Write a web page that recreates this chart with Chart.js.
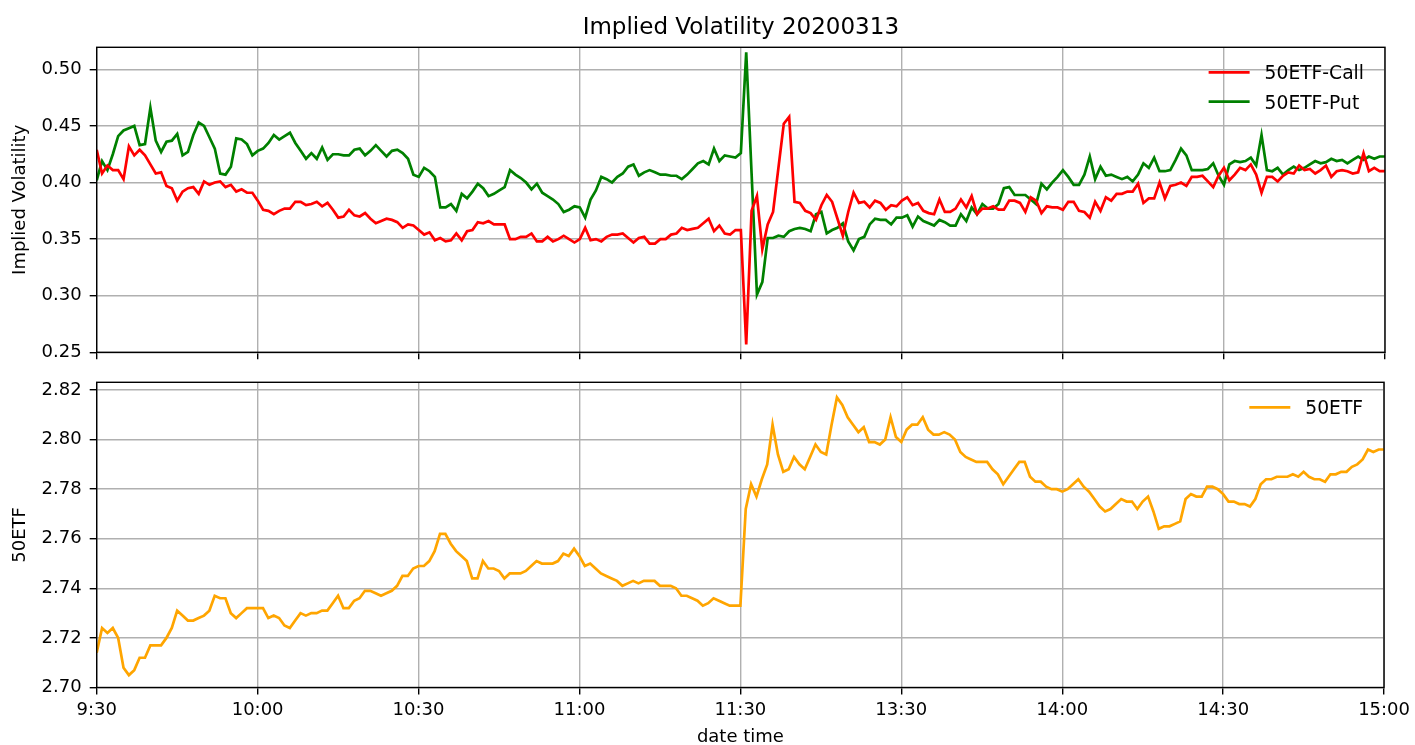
<!DOCTYPE html>
<html>
<head>
<meta charset="utf-8">
<script src="https://cdn.jsdelivr.net/npm/chart.js@4/dist/chart.umd.min.js"></script>
<style>
  html, body { margin: 0; padding: 0; background: #fff; overflow: hidden; }
  #wrap { position: relative; width: 1415px; height: 745px; }
  #ivChart { position: absolute; left: 0; top: 0; }
  #etfChart { position: absolute; left: 0; top: 360px; }
</style>
</head>
<body>
<div id="wrap">
  <canvas id="etfChart" width="1415" height="390"></canvas>
  <canvas id="ivChart" width="1415" height="372"></canvas>
</div>
<script>
// one value per trading minute, 9:30-11:30 then 13:00-15:00 (lunch break squeezed out)
var tickLabels = ['9:30', '10:00', '10:30', '11:00', '11:30', '13:30', '14:00', '14:30', '15:00'];

var callIV = [
  0.429, 0.408, 0.415, 0.411, 0.411, 0.403, 0.432, 0.424, 0.429, 0.424,
  0.416, 0.408, 0.409, 0.397, 0.395, 0.384, 0.392, 0.395, 0.396, 0.390,
  0.401, 0.398, 0.400, 0.401, 0.396, 0.398, 0.392, 0.394, 0.391, 0.391,
  0.384, 0.376, 0.375, 0.372, 0.375, 0.377, 0.377, 0.383, 0.383, 0.380,
  0.381, 0.383, 0.379, 0.382, 0.376, 0.369, 0.370, 0.376, 0.371, 0.370,
  0.373, 0.368, 0.364, 0.366, 0.368, 0.367, 0.365, 0.360, 0.363, 0.362,
  0.358, 0.354, 0.356, 0.349, 0.351, 0.348, 0.349, 0.355, 0.349, 0.357,
  0.358, 0.365, 0.364, 0.366, 0.363, 0.363, 0.363, 0.350, 0.350, 0.352,
  0.352, 0.355, 0.348, 0.348, 0.352, 0.348, 0.350, 0.353, 0.350, 0.347,
  0.350, 0.360, 0.349, 0.350, 0.348, 0.352, 0.354, 0.354, 0.355, 0.351,
  0.347, 0.351, 0.352, 0.346, 0.346, 0.350, 0.350, 0.354, 0.355, 0.360,
  0.358, 0.359, 0.360, 0.364, 0.368, 0.357, 0.362, 0.355, 0.354, 0.358,
  0.358, 0.257, 0.375, 0.388, 0.341, 0.363, 0.374, 0.413, 0.452, 0.458,
  0.383, 0.382, 0.375, 0.373, 0.367, 0.380, 0.389, 0.383, 0.368, 0.353,
  0.374, 0.391, 0.382, 0.383, 0.378, 0.384, 0.382, 0.376, 0.380, 0.379,
  0.384, 0.387, 0.380, 0.382, 0.375, 0.373, 0.372, 0.385, 0.374, 0.374,
  0.377, 0.385, 0.378, 0.388, 0.372, 0.377, 0.377, 0.379, 0.376, 0.376,
  0.384, 0.384, 0.382, 0.374, 0.387, 0.384, 0.373, 0.379, 0.378, 0.378,
  0.376, 0.383, 0.383, 0.375, 0.374, 0.369, 0.383, 0.375, 0.387, 0.384,
  0.390, 0.390, 0.392, 0.392, 0.399, 0.382, 0.386, 0.386, 0.400, 0.386,
  0.397, 0.398, 0.400, 0.397, 0.405, 0.405, 0.406, 0.401, 0.396, 0.406,
  0.413, 0.402, 0.407, 0.413, 0.411, 0.416, 0.407, 0.391, 0.405, 0.405,
  0.401, 0.406, 0.409, 0.408, 0.415, 0.411, 0.412, 0.408, 0.411, 0.415,
  0.405, 0.410, 0.411, 0.410, 0.408, 0.409, 0.426, 0.410, 0.413, 0.410,
  0.410
];

var putIV = [
  0.402, 0.419, 0.411, 0.425, 0.441, 0.446, 0.448, 0.450, 0.433, 0.434,
  0.466, 0.437, 0.427, 0.436, 0.437, 0.443, 0.424, 0.427, 0.442, 0.453,
  0.450, 0.440, 0.430, 0.408, 0.407, 0.414, 0.439, 0.438, 0.434, 0.424,
  0.428, 0.430, 0.435, 0.442, 0.438, 0.441, 0.444, 0.435, 0.428, 0.421,
  0.426, 0.421, 0.431, 0.420, 0.425, 0.425, 0.424, 0.424, 0.429, 0.430,
  0.424, 0.428, 0.433, 0.428, 0.423, 0.428, 0.429, 0.426, 0.421, 0.407,
  0.405, 0.413, 0.410, 0.405, 0.378, 0.378, 0.381, 0.375, 0.390, 0.386,
  0.392, 0.399, 0.395, 0.388, 0.390, 0.393, 0.396, 0.411, 0.407, 0.404,
  0.400, 0.394, 0.399, 0.391, 0.388, 0.385, 0.381, 0.374, 0.376, 0.379,
  0.378, 0.369, 0.385, 0.393, 0.405, 0.403, 0.400, 0.405, 0.408, 0.414,
  0.416, 0.406, 0.409, 0.411, 0.409, 0.407, 0.407, 0.406, 0.406, 0.403,
  0.407, 0.412, 0.417, 0.419, 0.416, 0.430, 0.419, 0.424, 0.423, 0.422,
  0.426, 0.515, 0.408, 0.301, 0.312, 0.351, 0.351, 0.353, 0.352, 0.357,
  0.359, 0.360, 0.359, 0.357, 0.372, 0.374, 0.355, 0.358, 0.360, 0.364,
  0.348, 0.340, 0.350, 0.352, 0.363, 0.368, 0.367, 0.367, 0.363, 0.369,
  0.369, 0.371, 0.361, 0.370, 0.366, 0.364, 0.362, 0.367, 0.365, 0.362,
  0.362, 0.372, 0.366, 0.378, 0.372, 0.381, 0.377, 0.377, 0.381, 0.395,
  0.396, 0.389, 0.389, 0.389, 0.385, 0.381, 0.399, 0.394, 0.400, 0.405,
  0.411, 0.405, 0.398, 0.398, 0.407, 0.423, 0.403, 0.414, 0.406, 0.407,
  0.405, 0.403, 0.405, 0.401, 0.407, 0.417, 0.413, 0.422, 0.410, 0.410,
  0.411, 0.420, 0.430, 0.424, 0.411, 0.411, 0.411, 0.412, 0.417, 0.406,
  0.398, 0.416, 0.419, 0.418, 0.419, 0.422, 0.415, 0.442, 0.411, 0.410,
  0.413, 0.407, 0.411, 0.414, 0.411, 0.413, 0.416, 0.419, 0.417, 0.418,
  0.421, 0.419, 0.420, 0.417, 0.420, 0.423, 0.420, 0.423, 0.421, 0.423,
  0.423
];

var etfPrice = [
  2.714, 2.724, 2.722, 2.724, 2.720, 2.708, 2.705, 2.707, 2.712, 2.712,
  2.717, 2.717, 2.717, 2.720, 2.724, 2.731, 2.729, 2.727, 2.727, 2.728,
  2.729, 2.731, 2.737, 2.736, 2.736, 2.730, 2.728, 2.730, 2.732, 2.732,
  2.732, 2.732, 2.728, 2.729, 2.728, 2.725, 2.724, 2.727, 2.730, 2.729,
  2.730, 2.730, 2.731, 2.731, 2.734, 2.737, 2.732, 2.732, 2.735, 2.736,
  2.739, 2.739, 2.738, 2.737, 2.738, 2.739, 2.741, 2.745, 2.745, 2.748,
  2.749, 2.749, 2.751, 2.755, 2.762, 2.762, 2.758, 2.755, 2.753, 2.751,
  2.744, 2.744, 2.751, 2.748, 2.748, 2.747, 2.744, 2.746, 2.746, 2.746,
  2.747, 2.749, 2.751, 2.750, 2.750, 2.750, 2.751, 2.754, 2.753, 2.756,
  2.753, 2.749, 2.750, 2.748, 2.746, 2.745, 2.744, 2.743, 2.741, 2.742,
  2.743, 2.742, 2.743, 2.743, 2.743, 2.741, 2.741, 2.741, 2.740, 2.737,
  2.737, 2.736, 2.735, 2.733, 2.734, 2.736, 2.735, 2.734, 2.733, 2.733,
  2.733, 2.772, 2.782, 2.777, 2.784, 2.790, 2.806, 2.794, 2.787, 2.788,
  2.793, 2.790, 2.788, 2.793, 2.798, 2.795, 2.794, 2.806, 2.817, 2.814,
  2.809, 2.806, 2.803, 2.805, 2.799, 2.799, 2.798, 2.800, 2.809, 2.801,
  2.799, 2.804, 2.806, 2.806, 2.809, 2.804, 2.802, 2.802, 2.803, 2.802,
  2.800, 2.795, 2.793, 2.792, 2.791, 2.791, 2.791, 2.788, 2.786, 2.782,
  2.785, 2.788, 2.791, 2.791, 2.785, 2.783, 2.783, 2.781, 2.780, 2.780,
  2.779, 2.780, 2.782, 2.784, 2.781, 2.779, 2.776, 2.773, 2.771, 2.772,
  2.774, 2.776, 2.775, 2.775, 2.772, 2.775, 2.777, 2.771, 2.764, 2.765,
  2.765, 2.766, 2.767, 2.776, 2.778, 2.777, 2.777, 2.781, 2.781, 2.780,
  2.778, 2.775, 2.775, 2.774, 2.774, 2.773, 2.776, 2.782, 2.784, 2.784,
  2.785, 2.785, 2.785, 2.786, 2.785, 2.787, 2.785, 2.784, 2.784, 2.783,
  2.786, 2.786, 2.787, 2.787, 2.789, 2.790, 2.792, 2.796, 2.795, 2.796,
  2.796
];

Chart.defaults.font.family = '"DejaVu Sans", sans-serif';
Chart.defaults.font.size = 18;
Chart.defaults.color = '#000';

function toPoints(values) {
  return values.map(function(v, i) { return { x: i, y: v }; });
}

// black frame round the plot area + legend without frame, matplotlib style
var framePlugin = {
  id: 'frame',
  afterDatasetsDraw: function(chart) {
    var a = chart.chartArea, ctx = chart.ctx;
    ctx.save();
    ctx.strokeStyle = '#000';
    ctx.lineWidth = 1.4;
    ctx.strokeRect(a.left, a.top, a.right - a.left, a.bottom - a.top);

    ctx.font = '18.7px "DejaVu Sans"';
    var sets = chart.data.datasets;
    var maxW = 0;
    sets.forEach(function(ds) { maxW = Math.max(maxW, ctx.measureText(ds.label).width); });
    var textX = a.right - 21 - maxW;
    sets.forEach(function(ds, i) {
      var y = a.top + 25 + i * 29.4;
      ctx.strokeStyle = ds.borderColor;
      ctx.lineWidth = 2.7;
      ctx.beginPath();
      ctx.moveTo(textX - 56, y);
      ctx.lineTo(textX - 15, y);
      ctx.stroke();
      ctx.fillStyle = '#000';
      ctx.textBaseline = 'alphabetic';
      ctx.fillText(ds.label, textX, y + 6.8);
    });
    ctx.restore();
  }
};

function xScale(showLabels, height) {
  return {
    type: 'linear',
    min: 0,
    max: 240,
    afterFit: function(s) { s.height = height; },
    border: { display: false },
    grid: { color: '#b0b0b0', lineWidth: 1.4, tickColor: '#000', tickWidth: 1.4, tickLength: 7 },
    ticks: {
      display: showLabels,
      stepSize: 30,
      autoSkip: false,
      maxRotation: 0,
      padding: 5,
      callback: function(v) { return tickLabels[v / 30]; }
    },
    title: { display: showLabels, text: 'date time', padding: { top: 0, bottom: 2 } }
  };
}

function yScale(title, min, max, step) {
  return {
    min: min,
    max: max,
    afterFit: function(s) { s.width = 96.7; },
    border: { display: false },
    grid: { color: '#b0b0b0', lineWidth: 1.4, tickColor: '#000', tickWidth: 1.4, tickLength: 7 },
    ticks: {
      stepSize: step,
      includeBounds: false,
      padding: 8,
      callback: function(v) { return v.toFixed(2); }
    },
    title: { display: true, text: title, padding: { top: 9.5, bottom: 0 } }
  };
}

function lineSet(label, values, color) {
  return {
    label: label,
    data: toPoints(values),
    borderColor: color,
    backgroundColor: color,
    borderWidth: 2.7,
    pointRadius: 0,
    tension: 0
  };
}

new Chart(document.getElementById('ivChart'), {
  type: 'line',
  data: {
    datasets: [
      lineSet('50ETF-Call', callIV, '#ff0000'),
      lineSet('50ETF-Put', putIV, '#008000')
    ]
  },
  options: {
    responsive: false,
    animation: false,
    devicePixelRatio: 1,
    layout: { autoPadding: false, padding: { left: 0, right: 30, top: 0, bottom: 0 } },
    plugins: {
      legend: { display: false },
      tooltip: { enabled: false },
      title: {
        display: true,
        text: 'Implied Volatility 20200313',
        fullSize: false,
        font: { size: 23, weight: 'normal' },
        padding: { top: 14.7, bottom: 5.0 }
      }
    },
    scales: {
      x: xScale(false, 19.7),
      y: yScale('Implied Volatility', 0.25, 0.5195, 0.05)
    }
  },
  plugins: [framePlugin]
});

new Chart(document.getElementById('etfChart'), {
  type: 'line',
  data: {
    datasets: [
      lineSet('50ETF', etfPrice, '#ffa500')
    ]
  },
  options: {
    responsive: false,
    animation: false,
    devicePixelRatio: 1,
    layout: { autoPadding: false, padding: { left: 0, right: 30, top: 22.3, bottom: 0 } },
    plugins: {
      legend: { display: false },
      tooltip: { enabled: false }
    },
    scales: {
      x: xScale(true, 62.5),
      y: yScale('50ETF', 2.70, 2.8231, 0.02)
    }
  },
  plugins: [framePlugin]
});
</script>
</body>
</html>
